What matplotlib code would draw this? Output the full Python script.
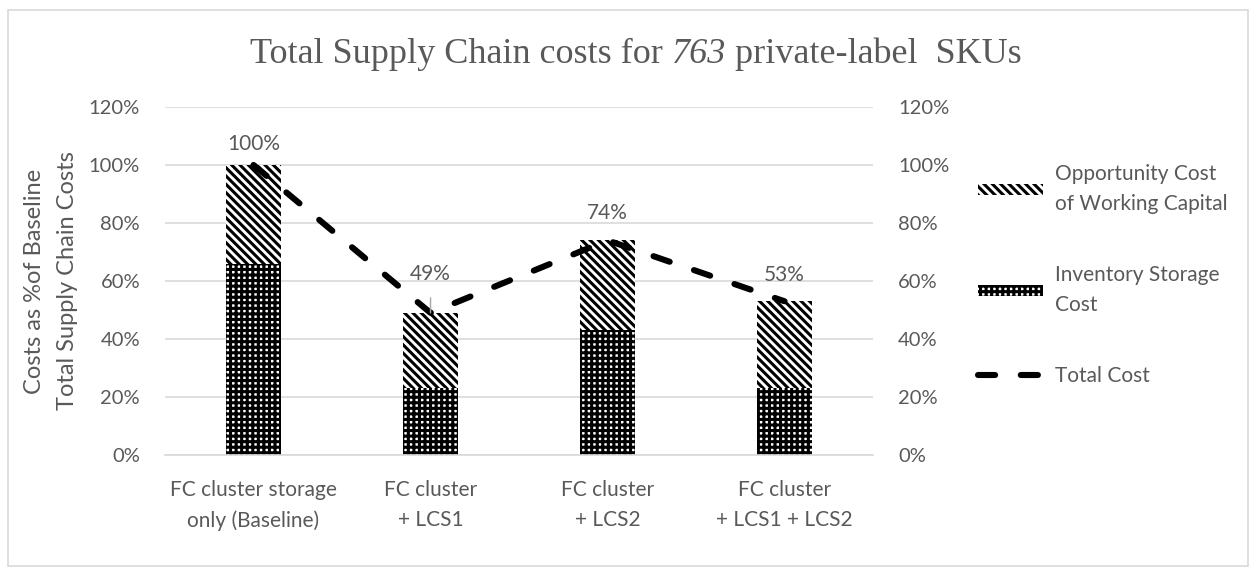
import numpy as np
import matplotlib
matplotlib.use("Agg")
import matplotlib.pyplot as plt
from matplotlib.patches import Patch, Rectangle
from matplotlib.lines import Line2D
from matplotlib.ticker import PercentFormatter
from matplotlib.offsetbox import TextArea, HPacker, AnchoredOffsetbox

categories = ["FC cluster storage\nonly (Baseline)", "FC cluster\n+ LCS1",
              "FC cluster\n+ LCS2", "FC cluster\n+ LCS1 + LCS2"]
storage_cost = [66, 23, 43, 23]
opportunity_cost = [34, 26, 31, 30]
total_cost = [100, 49, 74, 53]
total_labels = ["100%", "49%", "74%", "53%"]
label_offsets = [15, 28, 20, 19]

gray = "#595959"
grid = "#d9d9d9"

plt.rcParams["font.family"] = ["Lato", "DejaVu Sans"]
plt.rcParams["hatch.linewidth"] = 2.2

fig = plt.figure(figsize=(12.56, 5.69), dpi=100)
ax = fig.add_axes([0.1314, 0.2004, 0.5637, 0.6116])
x = np.arange(len(categories))

ax.bar(x, storage_cost, width=0.31, facecolor="white", edgecolor="black",
       hatch="+++", linewidth=0, zorder=2)
ax.bar(x, opportunity_cost, width=0.31, bottom=storage_cost, facecolor="white",
       edgecolor="black", hatch="\\\\\\\\", linewidth=0, zorder=2)
ax.plot(x, total_cost, color="black", lw=4.4, dashes=(2.8, 4.2),
        dash_capstyle="round", zorder=3)

for i in range(len(x)):
    if i == 1:
        ax.annotate(total_labels[i], (x[i], total_cost[i]), xytext=(0, label_offsets[i]),
                    textcoords="offset points", ha="center", va="center",
                    fontsize=15, color=gray,
                    arrowprops=dict(arrowstyle="-", color="#a6a6a6", lw=1,
                                    shrinkA=8, shrinkB=0))
    else:
        ax.annotate(total_labels[i], (x[i], total_cost[i]), xytext=(0, label_offsets[i]),
                    textcoords="offset points", ha="center", va="center",
                    fontsize=15, color=gray)

ax.set_xlim(-0.5, len(x) - 0.5)
ax.set_ylim(0, 120)
ax.set_yticks(range(0, 121, 20))
ax.yaxis.set_major_formatter(PercentFormatter(decimals=0))
ax.set_xticks(x)
ax.set_xticklabels(categories, linespacing=1.6)
ax.grid(axis="y", color=grid, lw=1.2, zorder=0)
ax.set_axisbelow(True)
for s in ["top", "left", "right"]:
    ax.spines[s].set_visible(False)
ax.spines["bottom"].set_color(grid)
ax.spines["bottom"].set_linewidth(1.2)
ax.tick_params(axis="y", length=0, labelsize=14.5, labelcolor=gray, pad=18)
ax.tick_params(axis="x", length=0, labelsize=15, labelcolor=gray, pad=18)
ax.set_ylabel("Costs as %of Baseline\nTotal Supply Chain Costs", fontsize=17,
              color=gray, linespacing=1.7, labelpad=8)

ax2 = ax.twinx()
ax2.set_ylim(0, 120)
ax2.set_yticks(range(0, 121, 20))
ax2.yaxis.set_major_formatter(PercentFormatter(decimals=0))
for s in ax2.spines.values():
    s.set_visible(False)
ax2.tick_params(axis="y", length=0, labelsize=14.5, labelcolor=gray, pad=18)

# title with italic number
tprops = dict(fontsize=26, color=gray, family="Liberation Serif")
parts = [TextArea("Total Supply Chain costs for ", textprops=tprops),
         TextArea("763", textprops=dict(tprops, style="italic")),
         TextArea(" private-label  SKUs", textprops=tprops)]
title_box = HPacker(children=parts, align="baseline", pad=0, sep=0)
fig.add_artist(AnchoredOffsetbox(loc="center", child=title_box, pad=0, borderpad=0,
                                 frameon=False, bbox_to_anchor=(0.506, 0.905),
                                 bbox_transform=fig.transFigure))

handles = [
    Patch(facecolor="white", edgecolor="black", hatch="\\\\\\\\", lw=0),
    Patch(facecolor="white", edgecolor="black", hatch="+++", lw=0),
    Line2D([0], [0], color="black", lw=4.4, dashes=(2.8, 4.2), dash_capstyle="round"),
]
labels = ["Opportunity Cost\nof Working Capital", "Inventory Storage\nCost", "Total Cost"]
leg = fig.legend(handles, labels, loc="upper left", bbox_to_anchor=(0.764, 0.745),
                 frameon=False, fontsize=15, labelcolor=gray, handlelength=3.1,
                 handleheight=0.4, handletextpad=0.6, labelspacing=2.45)
for t in leg.get_texts():
    t.set_linespacing(1.62)

fig.patches.append(Rectangle((0.006, 0.005), 0.988, 0.978, transform=fig.transFigure,
                             fill=False, edgecolor=grid, lw=1.2))

fig.savefig("out.png", dpi=100)
